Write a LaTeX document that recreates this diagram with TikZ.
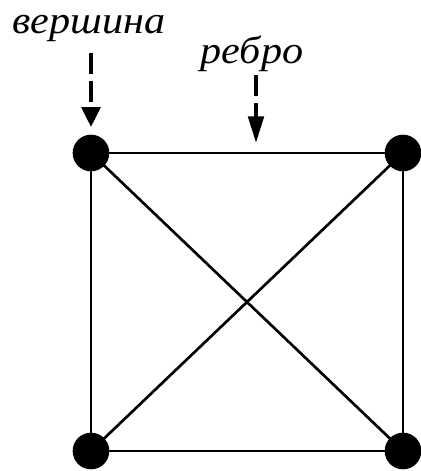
\documentclass[tikz,border=0pt]{standalone}
\usepackage{fontspec}
\setmainfont{Liberation Serif}
\newfontfamily\labelfont[FakeStretch=1.09]{Liberation Serif}
\usetikzlibrary{arrows.meta}
\begin{document}
\begin{tikzpicture}[x=0.75pt,y=-0.75pt,
  vertex/.style={circle,fill=black,draw=none,minimum size=27.5pt,inner sep=0pt},
  edge/.style={line width=2pt},
  label/.style={font=\labelfont\fontsize{29}{34}\selectfont\itshape,anchor=base,inner sep=0pt},
  pointer/.style={line width=3pt,dash pattern=on 16pt off 5pt}]
\useasboundingbox (0,0) rectangle (421,471);
\clip (0,0) rectangle (421,471);
% graph K4 drawn as a square with its diagonals
\coordinate (pa) at (91,153);
\coordinate (pb) at (403,153);
\coordinate (pc) at (91,451);
\coordinate (pd) at (403,451);
\draw[edge] (pa) -- (pb) -- (pd) -- (pc) -- cycle;
\draw[edge] (pa) -- (pd);
\draw[edge] (pb) -- (pc);
\node[vertex] (a) at (pa) {};
\node[vertex] (b) at (pb) {};
\node[vertex] (c) at (pc) {};
\node[vertex] (d) at (pd) {};
% labels with their pointers
\node[label] (lv) at (89,33) {вершина};
\node[label] (le) at (252,63) {ребро};
\coordinate (v0) at (91,53);
\coordinate (v1) at (91,127);
\coordinate (e0) at (256,75);
\coordinate (e1) at (256,143);
\draw[pointer,-{Triangle[length=15pt,width=14pt]}] (v0) -- (v1);
\draw[pointer,-{Triangle[length=20pt,width=11.5pt]}] (e0) -- (e1);
\end{tikzpicture}
\end{document}
